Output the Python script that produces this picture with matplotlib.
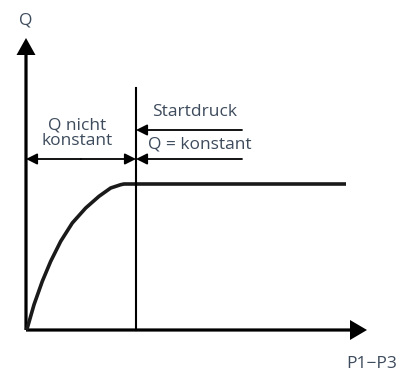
import matplotlib
matplotlib.use("Agg")
import matplotlib.pyplot as plt

# --- Data (arbitrary units, origin at the axis corner) ---
curve_x = [0, 1.3, 8, 16.3, 24.7, 34.7, 46.3, 59.7, 73, 84.7, 94.7, 98, 320]
curve_q = [0, 2, 25.3, 48.7, 68.7, 88.7, 107, 122, 133.7, 142, 145.3, 146, 146]
start_pressure = 110      # position of the "Startdruck" line
x_axis_end = 341
y_axis_end = 292
vline_top = 242

labels = {
    "y": "Q",
    "x": "P1\u2212P3",
    "left": "Q nicht\nkonstant",
    "start": "Startdruck",
    "const": "Q = konstant",
}

text_color = "#3d4b5c"
plt.rcParams["font.family"] = ["Open Sans", "DejaVu Sans"]

fig = plt.figure(figsize=(4.06, 3.74), dpi=100)
ax = fig.add_axes([0, 0, 1, 1])
ax.set_xlim(-26, 380)
ax.set_ylim(-44, 330)
ax.axis("off")

# axes with arrow heads
ax.arrow(0, 0, x_axis_end, 0, width=3.2, head_width=20, head_length=17,
         length_includes_head=True, color="black", lw=0)
ax.arrow(0, 0, 0, y_axis_end, width=3.2, head_width=19, head_length=17,
         length_includes_head=True, color="black", lw=0)

# flow curve
ax.plot(curve_x, curve_q, color="#1a1a1a", lw=2.6, solid_capstyle="butt",
        solid_joinstyle="round")

# start pressure line
ax.plot([start_pressure, start_pressure], [0, vline_top], color="black", lw=1.5)

arrow_kw = dict(arrowstyle="-|>,head_length=0.6,head_width=0.3", color="black",
                lw=1.3, mutation_scale=11, shrinkA=0, shrinkB=0)
# "Q nicht konstant" dimension arrow
ax.annotate("", xy=(0, 171), xytext=(start_pressure / 2, 171), arrowprops=arrow_kw)
ax.annotate("", xy=(start_pressure, 171), xytext=(start_pressure / 2, 171), arrowprops=arrow_kw)
# right side arrows
ax.annotate("", xy=(start_pressure, 200), xytext=(216, 200), arrowprops=arrow_kw)
ax.annotate("", xy=(start_pressure, 171), xytext=(216, 171), arrowprops=arrow_kw)

fs = 12.5
ax.text(0, 310, labels["y"], color=text_color, fontsize=fs, ha="center", va="center")
ax.text(346, -34, labels["x"], color=text_color, fontsize=fs, ha="center", va="center")
ax.text(51, 197, labels["left"], color=text_color, fontsize=fs, ha="center",
        va="center", linespacing=1.0)
ax.text(169, 218, labels["start"], color=text_color, fontsize=fs, ha="center", va="center")
ax.text(174, 186, labels["const"], color=text_color, fontsize=fs, ha="center", va="center")

fig.savefig("out.png", dpi=100)
